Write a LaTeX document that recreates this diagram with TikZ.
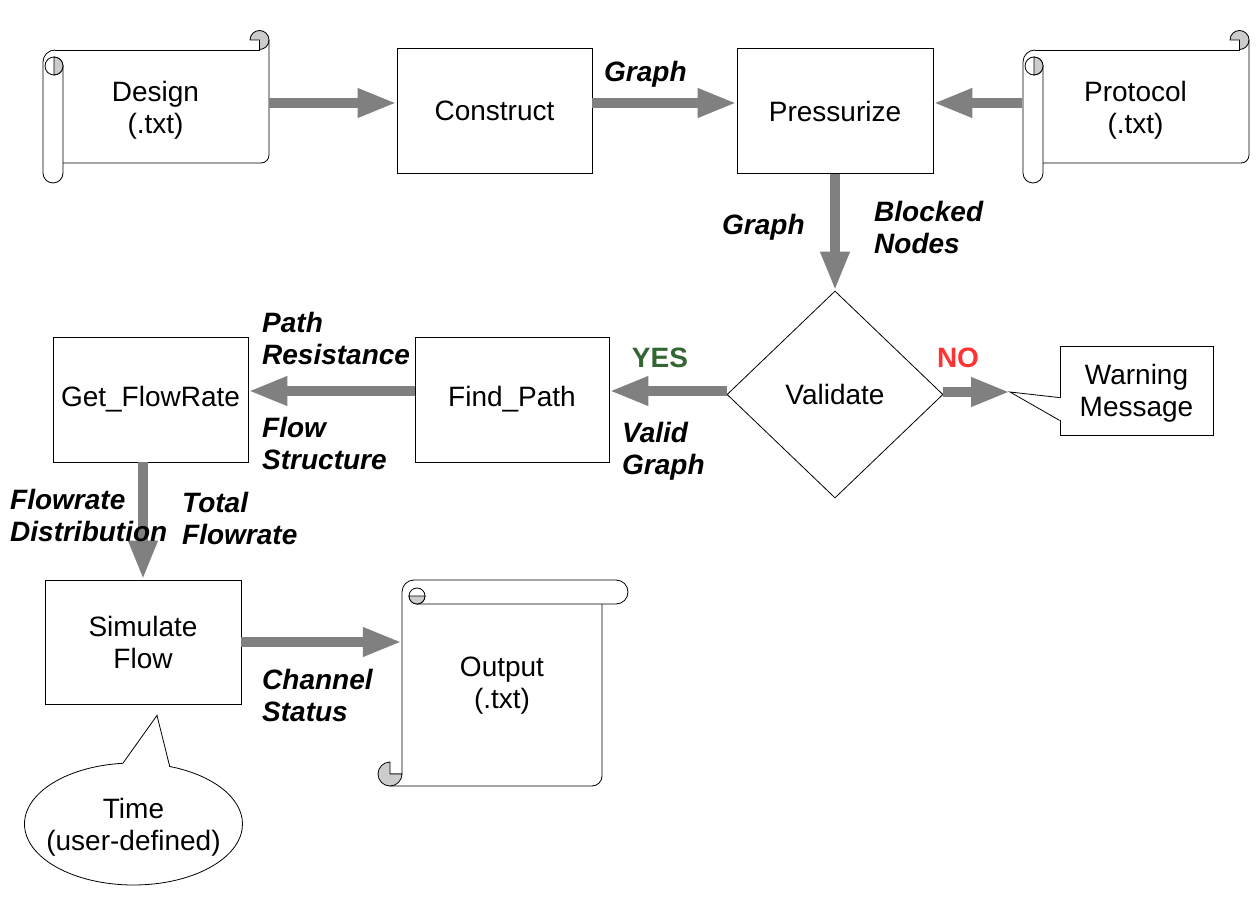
\documentclass[tikz,border=0pt]{standalone}
\usepackage{fontspec}
\setmainfont{Liberation Sans}
\usetikzlibrary{arrows.meta,shapes.geometric,shapes.callouts,calc}

\definecolor{yesgreen}{RGB}{51,102,51}
\definecolor{nored}{RGB}{255,51,51}
\newcommand{\chartfont}{\fontsize{28}{32}\selectfont}

\tikzset{
  box/.style={draw, line width=0.8pt, minimum width=195pt, minimum height=125pt, align=center},
  scrollbox/.style={align=center, inner sep=0pt},
  flow/.style={draw=gray, line width=9.5pt, -{Triangle[length=39pt,width=27pt]}},
  lbl/.style={font=\chartfont\bfseries\itshape, align=left, anchor=west, inner sep=0pt},
  curl/.style={draw, line width=0.8pt, fill=gray!40},
  edge/.style={draw, line width=0.8pt},
}

\newcommand{\vscroll}[1]{%
  \begin{scope}[shift={(#1.center)}, edge]
    \draw (-100.5,-57) -- (104,-57) -- (104,-67);
    \draw[curl] (104,-67) -- (104,-57.5) arc[start angle=90,end angle=-180,radius=9.5] -- cycle;
    \draw (113.5,-67) -- (113.5,48) arc[start angle=0,end angle=90,radius=8] -- (-92.5,56);
    \draw (-100.5,-57) arc[start angle=270,end angle=180,radius=12] -- (-112.5,66)
      arc[start angle=180,end angle=0,radius=10] -- (-92.5,-41);
    \draw (-101.5,-41) circle[radius=9];
    \draw[curl] (-101.5,-50) arc[start angle=-90,end angle=90,radius=9] -- cycle;
  \end{scope}}

\newcommand{\hscroll}[1]{%
  \begin{scope}[shift={(#1.center)}, edge]
    \draw (-88,-102.5) -- (114,-102.5) arc[start angle=-90,end angle=90,radius=12] -- (-85,-78.5);
    \draw (-88,-102.5) arc[start angle=270,end angle=180,radius=12] -- (-100,91.5) -- (-112,91.5);
    \draw (-85,-86.5) circle[radius=8];
    \draw[curl] (-93,-86.5) arc[start angle=180,end angle=0,radius=8] -- cycle;
    \draw (100,-78.5) -- (100,93.5) arc[start angle=0,end angle=90,radius=10] -- (-112,103.5);
    \draw[curl] (-112,91.5) -- (-100,91.5) arc[start angle=0,end angle=270,radius=12] -- cycle;
  \end{scope}}

\begin{document}
\begin{tikzpicture}[x=1pt, y=-1pt, font=\chartfont]
\useasboundingbox (0,0) rectangle (1256,901);

% top row
\node[scrollbox, minimum width=226pt, minimum height=153pt] (design) at (155.5,107) {Design\\\smash{(.txt)}};
\vscroll{design}
\node[box] (construct) at (494.5,111) {Construct};
\node[box, minimum width=196pt] (pressurize) at (835,111) {Pressurize};
\node[scrollbox, minimum width=226pt, minimum height=153pt] (protocol) at (1135.5,107) {Protocol\\\smash{(.txt)}};
\vscroll{protocol}

% middle row
\node[draw, line width=0.8pt, diamond, minimum width=216pt, minimum height=207pt, inner sep=0pt] (validate) at (835,394.5) {Validate};
\node[box, minimum width=194pt] (findpath) at (512,399.5) {Find\_Path};
\node[box] (getflow) at (150.5,399.5) {Get\_FlowRate};
\node[draw, line width=0.8pt, minimum width=153pt, minimum height=89pt, align=center] (warn) at (1136.5,390.5) {Warning\\\smash{Message}};

% bottom row
\node[box, minimum width=196pt, minimum height=124pt] (sim) at (143,642) {Simulate\\Flow};
\node[scrollbox, minimum width=200pt, minimum height=207pt] (output) at (502,682.5) {Output\\\smash{(.txt)}};
\hscroll{output}
\node[draw, line width=0.8pt, ellipse callout, callout absolute pointer={($(sim.south)+(14,11)$)},
  callout pointer arc=25, minimum width=218pt, minimum height=122pt, inner xsep=-12pt, inner ysep=0pt,
  align=center] (time) at (133.5,824) {Time\\\smash{(user-defined)}};

\coordinate (toprow) at (0,103);
\coordinate (midrow) at (0,391);
\coordinate (leftcol) at (143,0);
\coordinate (warntip) at (1010,392);

\draw[edge] ($(warn.north west)+(0,52)$) -- (warntip) -- ($(warn.south west)+(0,-15)$);
\fill[white] ($(warn.north west)+(0,52)$) rectangle ($(warn.south west)+(1,-15)$);

% arrows
\draw[flow] (design.east |- toprow) -- (construct.west |- toprow);
\draw[flow] (construct.east |- toprow) -- (pressurize.west |- toprow);
\draw[flow] (protocol.west |- toprow) -- (pressurize.east |- toprow);
\draw[flow] (pressurize.south) -- (validate.north);
\draw[flow] (validate.west |- midrow) -- (findpath.east |- midrow);
\draw[flow] (validate.east |- warntip) -- (warntip);
\draw[flow] (findpath.west |- midrow) -- (getflow.east |- midrow);
\draw[flow] (getflow.south -| leftcol) -- (sim.north -| leftcol);
\draw[flow] (sim.east) -- (output.west |- sim.east);

% labels
\node[lbl] (graphA) at (604,74) {Graph};
\node[lbl] (graphB) at (722,227) {Graph};
\node[lbl] (blocked) at (874,227.5) {Blocked\\Nodes};
\node[font=\chartfont\bfseries, text=yesgreen] (yes) at (660,358) {YES};
\node[font=\chartfont\bfseries, text=nored] (no) at (958,358) {NO};
\node[lbl] (valid) at (622,451) {Valid\\Graph};
\node[lbl] (pathres) at (262,338) {Path\\Resistance};
\node[lbl] (flowstr) at (262,443) {Flow\\Structure};
\node[lbl] (flowdist) at (10,515) {Flowrate\\Distribution};
\node[lbl] (totflow) at (182,518) {Total\\Flowrate};
\node[lbl] (chan) at (262,695) {Channel\\Status};
\end{tikzpicture}
\end{document}
